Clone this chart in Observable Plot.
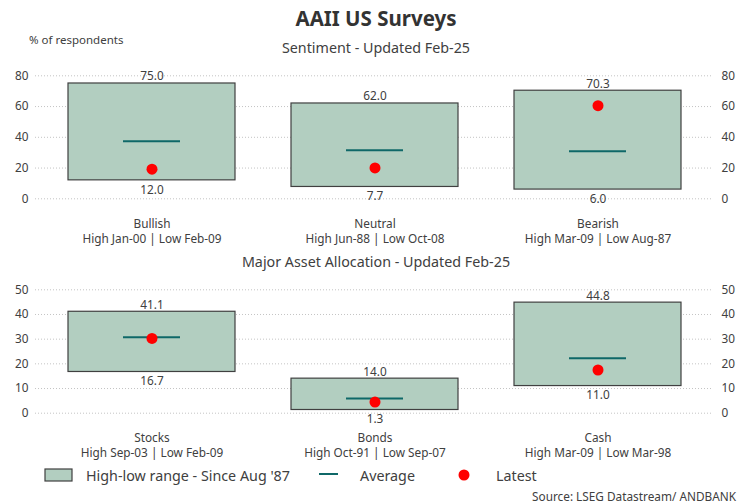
<!DOCTYPE html>
<html><head><meta charset="utf-8">
<script src="https://cdn.jsdelivr.net/npm/d3@7"></script>
<script src="https://cdn.jsdelivr.net/npm/@observablehq/plot@0.6"></script>
<style>
body{margin:0;background:#fff;font-family:"Noto Sans",sans-serif;}
#wrap{position:relative;width:752px;height:504px;overflow:hidden;background:#fff;}
.abs{position:absolute;white-space:nowrap;color:#404040;line-height:20px;}
.ctr{left:0;width:752px;text-align:center;}
</style></head><body>
<div id="wrap">
<div class="abs ctr" style="top:8px;font-size:20.5px;font-weight:bold;color:#333">AAII US Surveys</div>
<div class="abs" style="left:29px;top:30px;font-size:11.5px">% of respondents</div>
<div class="abs ctr" style="top:38px;font-size:14.3px">Sentiment - Updated Feb-25</div>
<div id="p1" class="abs" style="left:0;top:60px;line-height:normal"></div>
<div class="abs ctr" style="top:252px;font-size:14.3px">Major Asset Allocation - Updated Feb-25</div>
<div id="p2" class="abs" style="left:0;top:270px;line-height:normal"></div>
<div id="legend"></div>
<div class="abs" style="right:16px;top:490px;font-size:11.8px;line-height:13px">Source: LSEG Datastream/ ANDBANK</div>
</div>
<script>
// ---- Data ----
const sentimentCategories = ["Bullish", "Neutral", "Bearish"];
const sentimentDates = ["High Jan-00 | Low Feb-09", "High Jun-88 | Low Oct-08", "High Mar-09 | Low Aug-87"];
const sentimentHigh = [75.0, 62.0, 70.3];
const sentimentLow = [12.0, 7.7, 6.0];
const sentimentAverage = [37.5, 31.5, 31.0];
const sentimentLatest = [19.3, 20.1, 60.6];
const sentimentTicks = [0, 20, 40, 60, 80];

const allocationCategories = ["Stocks", "Bonds", "Cash"];
const allocationDates = ["High Sep-03 | Low Feb-09", "High Oct-91 | Low Sep-07", "High Mar-09 | Low Mar-98"];
const allocationHigh = [41.1, 14.0, 44.8];
const allocationLow = [16.7, 1.3, 11.0];
const allocationAverage = [30.8, 6.0, 22.3];
const allocationLatest = [30.3, 4.5, 17.5];
const allocationTicks = [0, 10, 20, 30, 40, 50];

const legendLabels = ["High-low range - Since Aug '87", "Average", "Latest"];

const FILL = "#b2cec0", EDGE = "#404040", AVG = "#0f6868", DOT = "#ff0000";

function panel(cats, dates, high, low, avg, latest, ticks, height, marginTop, marginBottom) {
  const rows = cats.map((c, i) => ({cat: c, date: dates[i], high: high[i], low: low[i], avg: avg[i], latest: latest[i]}));
  return Plot.plot({
    width: 752, height, marginLeft: 35, marginRight: 39, marginTop, marginBottom,
    style: {fontFamily: "Noto Sans, sans-serif", fontSize: "11.8px", color: "#404040", background: "transparent", overflow: "visible"},
    x: {domain: cats, paddingInner: 0.25, paddingOuter: 0.125, insetLeft: 4.5, insetRight: 3.5, axis: null},
    y: {domain: [0, ticks[ticks.length - 1]], axis: null},
    marks: [
      Plot.ruleY(ticks, {stroke: "#c4c4c4", strokeDasharray: "1,2", strokeWidth: 1}),
      Plot.axisY({ticks, anchor: "left", tickSize: 0, tickPadding: 7, label: null}),
      Plot.axisY({ticks, anchor: "right", tickSize: 0, tickPadding: 8, label: null}),
      Plot.axisX({anchor: "bottom", tickSize: 0, tickPadding: 18, label: null, lineHeight: 1.3,
        tickFormat: d => d + "\n" + dates[cats.indexOf(d)]}),
      Plot.barY(rows, {x: "cat", y1: "low", y2: "high", fill: FILL, stroke: EDGE, strokeWidth: 1.2}),
      Plot.tickY(rows, {x: "cat", y: "avg", stroke: AVG, strokeWidth: 2, insetLeft: 55, insetRight: 55}),
      Plot.dot(rows, {x: "cat", y: "latest", r: 5.5, fill: DOT}),
      Plot.text(rows, {x: "cat", y: "high", text: d => d.high.toFixed(1), lineAnchor: "bottom", dy: -3, fill: "#404040"}),
      Plot.text(rows, {x: "cat", y: "low", text: d => d.low.toFixed(1), lineAnchor: "top", dy: 5, fill: "#404040"})
    ]
  });
}

document.getElementById("p1").append(panel(sentimentCategories, sentimentDates, sentimentHigh, sentimentLow,
  sentimentAverage, sentimentLatest, sentimentTicks, 190, 15.3, 51.7));
document.getElementById("p2").append(panel(allocationCategories, allocationDates, allocationHigh, allocationLow,
  allocationAverage, allocationLatest, allocationTicks, 195, 19.3, 52.3));

// ---- Legend ----
const lg = document.getElementById("legend");
lg.innerHTML = `
<svg style="position:absolute;left:44px;top:468px" width="30" height="15"><rect x="1" y="1" width="27" height="12" fill="${FILL}" stroke="${EDGE}" stroke-width="1.2"/></svg>
<div class="abs" style="left:86px;top:466px;font-size:14.3px">${legendLabels[0]}</div>
<svg style="position:absolute;left:318px;top:469px" width="22" height="10"><line x1="1" x2="20" y1="5" y2="5" stroke="${AVG}" stroke-width="2"/></svg>
<div class="abs" style="left:360px;top:466px;font-size:14.3px">${legendLabels[1]}</div>
<svg style="position:absolute;left:457px;top:468px" width="14" height="14"><circle cx="7" cy="7" r="5.5" fill="${DOT}"/></svg>
<div class="abs" style="left:496px;top:466px;font-size:14.3px">${legendLabels[2]}</div>`;
</script>
</body></html>
